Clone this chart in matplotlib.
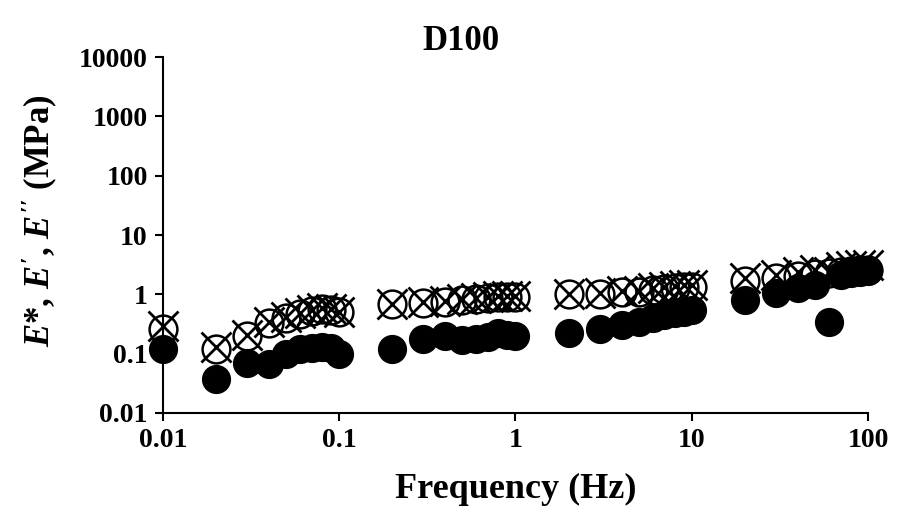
import matplotlib
matplotlib.use('Agg')
import matplotlib.pyplot as plt

freq = [0.01, 0.02, 0.03, 0.04, 0.05, 0.06, 0.07, 0.08, 0.09,
        0.1, 0.2, 0.3, 0.4, 0.5, 0.6, 0.7, 0.8, 0.9,
        1, 2, 3, 4, 5, 6, 7, 8, 9,
        10, 20, 30, 40, 50, 60, 70, 80, 90, 100]

e_star = [0.29, 0.13, 0.21, 0.34, 0.41, 0.49, 0.55, 0.58, 0.56,
          0.51, 0.69, 0.74, 0.77, 0.82, 0.87, 0.9, 0.93, 0.92,
          0.92, 1.03, 1.05, 1.12, 1.15, 1.27, 1.33, 1.38, 1.44,
          1.45, 1.9, 2.15, 2.4, 2.6, 2.35, 2.85, 3.0, 3.1, 3.1]

e_prima = [0.26, 0.12, 0.2, 0.33, 0.4, 0.47, 0.53, 0.56, 0.55,
           0.5, 0.68, 0.72, 0.74, 0.8, 0.85, 0.88, 0.9, 0.9,
           0.9, 1.0, 1.02, 1.08, 1.1, 1.2, 1.25, 1.3, 1.35,
           1.35, 1.7, 1.9, 2.05, 2.2, 2.3, 2.4, 2.5, 2.6, 2.6]

e_2prima = [0.12, 0.038, 0.07, 0.068, 0.1, 0.12, 0.125, 0.13, 0.125,
            0.1, 0.12, 0.18, 0.2, 0.17, 0.18, 0.19, 0.22, 0.21,
            0.2, 0.22, 0.26, 0.3, 0.34, 0.4, 0.45, 0.48, 0.5,
            0.55, 0.8, 1.05, 1.3, 1.45, 0.34, 2.1, 2.3, 2.4, 2.5]

yticks = [0.01, 0.1, 1, 10, 100, 1000, 10000]
ytick_labels = ['0.01', '0.1', '1', '10', '100', '1000', '10000']
xticks = [0.01, 0.1, 1, 10, 100]
xtick_labels = ['0.01', '0.1', '1', '10', '100']

plt.rcParams['font.family'] = 'Liberation Serif'
plt.rcParams['font.weight'] = 'bold'
plt.rcParams['mathtext.fontset'] = 'custom'
plt.rcParams['mathtext.it'] = 'Liberation Serif:italic:bold'
plt.rcParams['mathtext.rm'] = 'Liberation Serif:bold'

fig = plt.figure(figsize=(8.99, 5.17), dpi=100)
ax = fig.add_axes([0.1813, 0.2012, 0.7842, 0.6885])

ax.plot(freq, e_prima, 'o', ms=20, mfc='none', mec='black', mew=1.8)
ax.plot(freq, e_2prima, 'o', ms=20, mfc='black', mec='black')
ax.plot(freq, e_star, 'x', ms=21, mec='black', mew=2)

ax.set_xscale('log')
ax.set_yscale('log')
ax.set_xlim(0.01, 100)
ax.set_ylim(0.01, 10000)
ax.set_xticks(xticks)
ax.set_xticklabels(xtick_labels)
ax.set_yticks(yticks)
ax.set_yticklabels(ytick_labels)
ax.minorticks_off()

ax.spines['top'].set_visible(False)
ax.spines['right'].set_visible(False)
ax.spines['left'].set_linewidth(1.5)
ax.spines['bottom'].set_linewidth(1.5)
ax.tick_params(axis='both', direction='out', length=6, width=1.5,
               labelsize=20, pad=5)
for lab in ax.get_xticklabels() + ax.get_yticklabels():
    lab.set_fontweight('bold')
for s in ax.spines.values():
    s.set_clip_on(False)
for ln in ax.lines:
    ln.set_clip_on(False)

ax.set_xlabel('Frequency (Hz)', fontsize=26, fontweight='bold', labelpad=14)
fig.text(0.045, 0.574, r"$E$*, $E'$, $E''$ (MPa)", rotation=90,
         fontsize=25, fontweight='bold', ha='center', va='center')
fig.text(0.513, 0.92, 'D100', fontsize=25, fontweight='bold',
         ha='center', va='center')

plt.savefig('out.png', dpi=100)
